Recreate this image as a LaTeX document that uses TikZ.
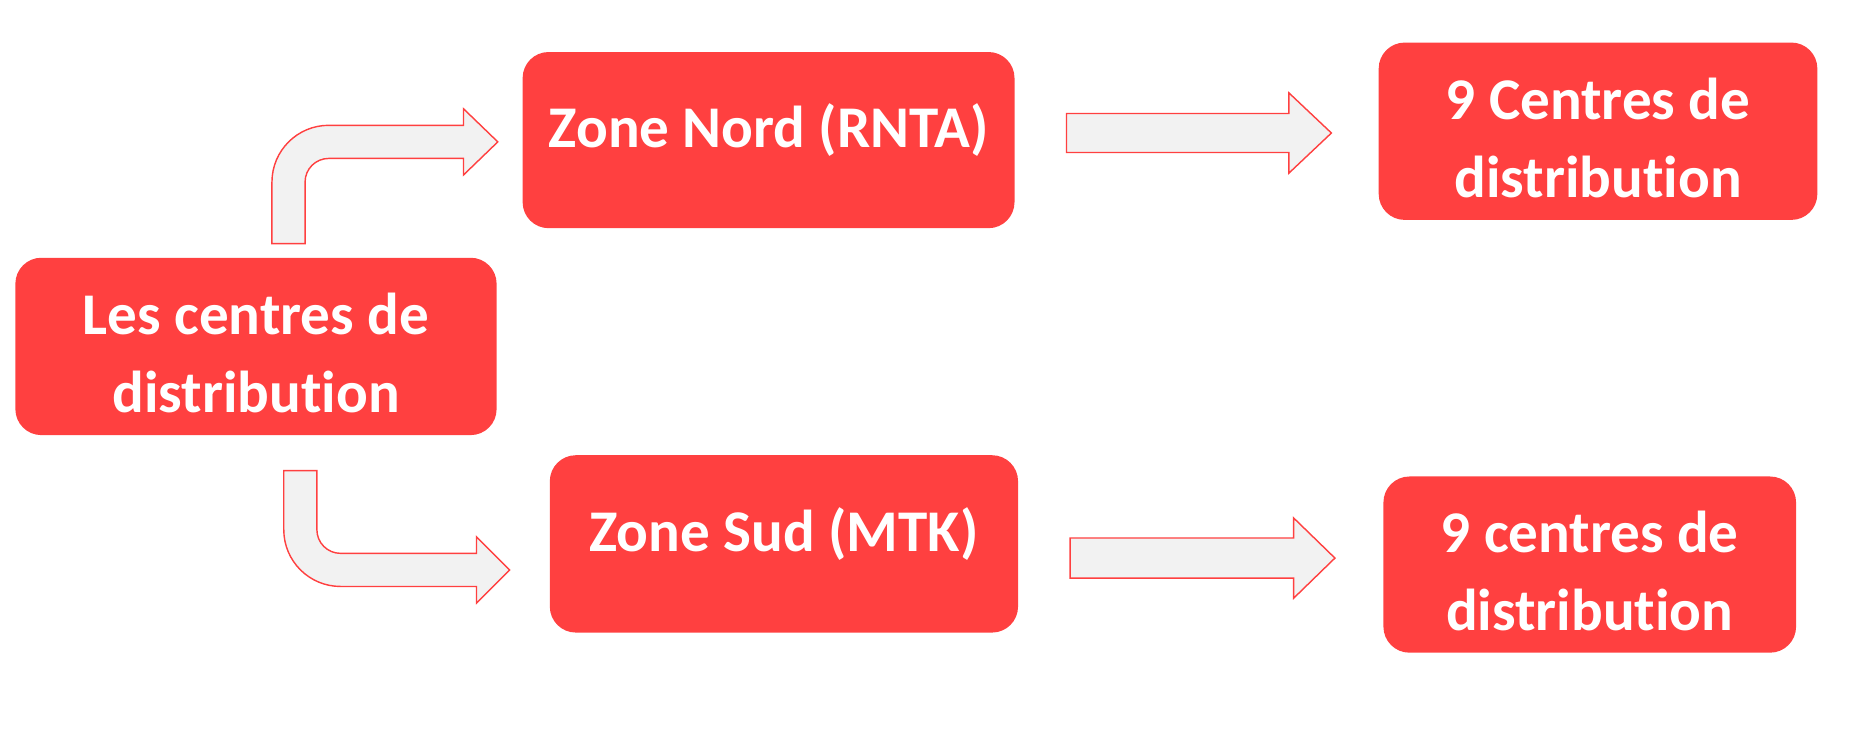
\documentclass[tikz,border=0pt]{standalone}
\usepackage{fontspec}
\setmainfont{Carlito}[Ligatures={NoCommon}, RawFeature={-liga;-dlig;-clig}]
\usetikzlibrary{positioning, calc}
\definecolor{boxred}{RGB}{255, 64, 64}
\definecolor{arrowgray}{RGB}{242, 242, 242}
\newcommand{\zstrut}{\rule{0pt}{46pt}}

\begin{document}
\begin{tikzpicture}[
  x=1pt, y=1pt,
  zbox/.style={fill=boxred, rounded corners=22pt, align=center, text=white, inner sep=0pt,
    font=\fontsize{50}{66}\selectfont\bfseries},
  oneline/.style={text depth=24pt},
  barrow/.style={draw=boxred, fill=arrowgray, line width=1.2pt, line join=miter}
]
  \useasboundingbox (0,0) rectangle (1568,620);
  % boxes
  \node[zbox, minimum width=407pt, minimum height=150pt] (src) at (216.5, 327) {\zstrut Les centres de\\distribution};
  \node[zbox, oneline, minimum width=416pt, minimum height=149pt] (nord) at (650, 501.5) {Zone Nord (RNTA)};
  \node[zbox, minimum width=371pt, minimum height=150pt] (nordc) at (1351.5, 509) {\zstrut 9 Centres de\\distribution};
  \node[zbox, oneline, minimum width=396pt, minimum height=150pt] (sud) at (663, 160) {Zone Sud (MTK)};
  \node[zbox, minimum width=349pt, minimum height=149pt] (sudc) at (1344.5, 142.5) {\zstrut 9 centres de\\distribution};
  % arrow tails
  \coordinate (uptail) at (230, 414);
  \coordinate (downtail) at (240, 222);
  \coordinate (nordtail) at (902, 507.5);
  \coordinate (sudtail) at (905, 148);
  % bent arrows
  \draw[barrow] (uptail) -- ++(0,52) arc[start angle=180, end angle=90, radius=48pt]
    -- (392,514) -- (392,528) -- (421,500) -- (392,472) -- (392,486) -- (278,486)
    arc[start angle=90, end angle=180, radius=20pt] -- (258,414) -- cycle;
  \draw[barrow] (downtail) -- ++(0,-50) arc[start angle=180, end angle=270, radius=48pt]
    -- (403,124) -- (403,110) -- (431,138) -- (403,166) -- (403,152) -- (288,152)
    arc[start angle=270, end angle=180, radius=20pt] -- (268,222) -- cycle;
  % straight arrows
  \draw[barrow] (nordtail) ++(0,-16.5) -- ++(188,0) -- ++(0,-17.5) -- ++(36,34) -- ++(-36,34)
    -- ++(0,-17.5) -- ++(-188,0) -- cycle;
  \draw[barrow] (sudtail) ++(0,-17) -- ++(189,0) -- ++(0,-17) -- ++(35,34) -- ++(-35,34)
    -- ++(0,-17) -- ++(-189,0) -- cycle;
\end{tikzpicture}
\end{document}
